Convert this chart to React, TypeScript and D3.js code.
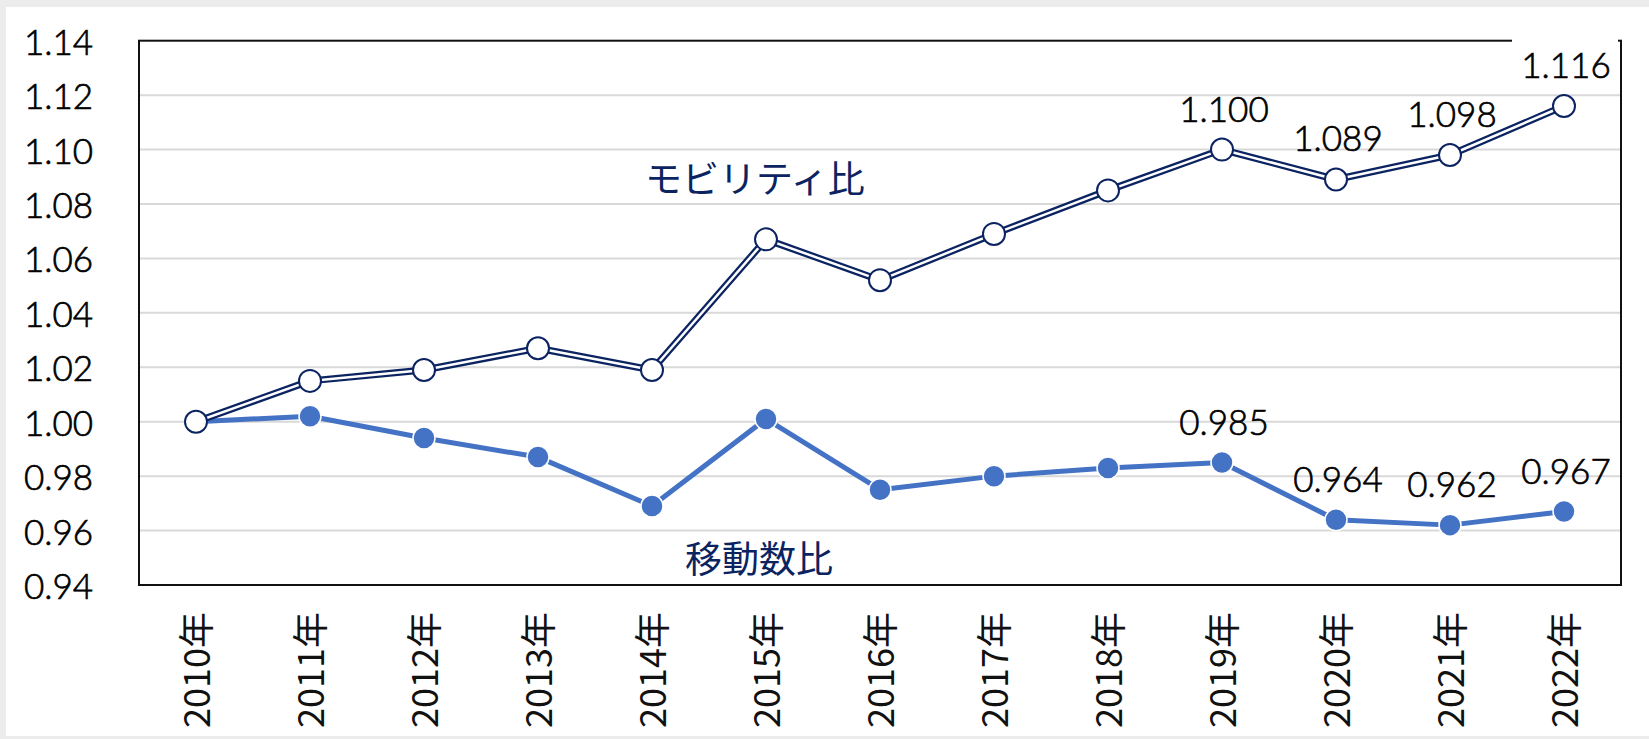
import React from "react";
import * as d3 from "d3";

const years = ["2010年","2011年","2012年","2013年","2014年","2015年","2016年","2017年","2018年","2019年","2020年","2021年","2022年"];
const mobility = [1.000, 1.015, 1.019, 1.027, 1.019, 1.067, 1.052, 1.069, 1.085, 1.100, 1.089, 1.098, 1.116];
const movement = [1.000, 1.002, 0.994, 0.987, 0.969, 1.001, 0.975, 0.980, 0.983, 0.985, 0.964, 0.962, 0.967];
const yTicks = [0.94, 0.96, 0.98, 1.00, 1.02, 1.04, 1.06, 1.08, 1.10, 1.12, 1.14];
const labeledFrom = 9;
const mobilityName = "モビリティ比";
const movementName = "移動数比";

const W = 1649, H = 739;
const left = 139, right = 1621, top = 40.7, bottom = 585;
const NAVY = "#0b2461";
const BLUE = "#4472C4";
const numFont = "Lato, 'Noto Sans', sans-serif";
const jpFont = "'Noto Sans CJK JP', sans-serif";
const numStyle = { fontFamily: numFont, fontWeight: 300, fontSize: 35, fill: "#000", stroke: "#000", strokeWidth: 0.7 };

export default function App() {
  const x = d3.scaleBand<string>().domain(years).range([left, right]);
  const cx = (i: number) => (x(years[i]) as number) + x.bandwidth() / 2;
  const y = d3.scaleLinear().domain([0.94, 1.14]).range([bottom, top]);
  const line = d3.line<number>().x((_, i) => cx(i)).y((v) => y(v));

  return (
    <svg width={W} height={H} style={{ position: "absolute", left: 0, top: 0 }}>
      <rect x={0} y={0} width={W} height={H} fill="#ececec" />
      <rect x={6} y={7} width={W - 6} height={729} fill="#ffffff" />
      {yTicks.map((t) => (
        <g key={t}>
          {t > 0.94 && t < 1.14 && (
            <line x1={left} x2={right} y1={y(t)} y2={y(t)} stroke="#d9d9d9" strokeWidth={2} />
          )}
          <text x={93} y={y(t)} textAnchor="end" dominantBaseline="central" style={numStyle}>
            {t.toFixed(2)}
          </text>
        </g>
      ))}
      <rect x={left} y={top} width={right - left} height={bottom - top} fill="none" stroke="#111" strokeWidth={2} />
      {years.map((yr, i) => (
        <text key={yr} transform={`translate(${cx(i) - 2},612) rotate(-90)`} textAnchor="end" dominantBaseline="central" fontFamily={jpFont} fontSize={36} fill="#111">
          {yr}
        </text>
      ))}
      <path d={line(movement) || ""} fill="none" stroke={BLUE} strokeWidth={5} strokeLinejoin="round" />
      {movement.map((v, i) => (
        <circle key={i} cx={cx(i)} cy={y(v)} r={11} fill={BLUE} stroke="#fff" strokeWidth={1.5} />
      ))}
      <path d={line(mobility) || ""} fill="none" stroke={NAVY} strokeWidth={7} strokeLinejoin="round" />
      <path d={line(mobility) || ""} fill="none" stroke="#fff" strokeWidth={2.5} strokeLinejoin="round" />
      {mobility.map((v, i) => (
        <circle key={i} cx={cx(i)} cy={y(v)} r={11} fill="#fff" stroke={NAVY} strokeWidth={2} />
      ))}
      {mobility.map((v, i) =>
        i >= labeledFrom ? (
          <g key={"m" + i}>
            {i === mobility.length - 1 && (
              <rect x={cx(i) - 52} y={y(v) - 70} width={106} height={52} fill="#fff" />
            )}
            <text x={cx(i) + 2} y={y(v) - 28} textAnchor="middle" style={numStyle}>
              {v.toFixed(3)}
            </text>
          </g>
        ) : null
      )}
      {movement.map((v, i) =>
        i >= labeledFrom ? (
          <text key={"c" + i} x={cx(i) + 2} y={y(v) - 28} textAnchor="middle" style={numStyle}>
            {v.toFixed(3)}
          </text>
        ) : null
      )}
      <text x={645} y={177} dominantBaseline="central" fontFamily={jpFont} fontSize={37} fill={NAVY}>
        {mobilityName}
      </text>
      <text x={685} y={557} dominantBaseline="central" fontFamily={jpFont} fontSize={37} fill={NAVY}>
        {movementName}
      </text>
    </svg>
  );
}
